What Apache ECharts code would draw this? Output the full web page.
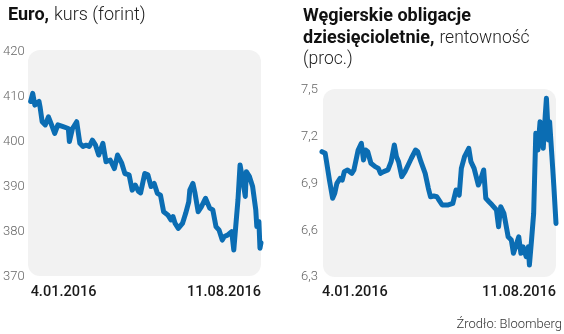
<!DOCTYPE html>
<html>
<head>
<meta charset="utf-8">
<script src="https://cdn.jsdelivr.net/npm/echarts@6/dist/echarts.min.js"></script>
<style>
html,body{margin:0;padding:0;background:#fff;}
#c{width:564px;height:334px;}
</style>
</head>
<body>
<div id="c"></div>
<script>
// ---- data ----
const dateLabels = ['4.01.2016', '11.08.2016'];
const totalDays = 220; // 4.01.2016 -> 11.08.2016

// Euro/HUF exchange rate (calendar-day offset from 4.01.2016, value)
const eurDays = [0,2,4,8,9,11,14,17,20,23,26,31,36,37,40,44,47,50,53,56,59,62,65,69,72,76,80,83,87,90,94,97,100,103,105,109,112,115,118,121,124,127,131,134,136,138,141,145,148,151,152,155,157,160,163,167,171,174,177,180,183,185,188,192,194,196,198,200,202,205,206,209,212,215,216,218,219,220];
const eurValues = [409.0,410.8,408.2,409.0,407.8,404.5,403.8,405.6,403.8,401.9,403.8,403.4,403.0,400.1,403.0,404.5,399.7,399.0,399.3,399.0,400.4,399.3,397.1,399.7,395.6,396.0,394.1,397.1,395.3,393.0,392.7,389.3,390.4,389.0,388.7,393.0,392.7,390.1,390.8,388.6,388.2,384.5,383.8,382.7,383.4,381.9,380.8,381.9,384.1,386.7,389.3,390.8,388.6,384.5,385.6,387.5,385.3,384.9,381.2,380.4,378.2,379.0,379.3,380.1,376.0,381.6,387.1,394.9,392.3,387.9,393.4,392.3,390.1,384.9,381.2,382.3,376.4,377.6];
const eurTicks = [370, 380, 390, 400, 410, 420];

// Hungarian 10-year bond yield (calendar-day offset, %)
const bondDays = [0,3,4,7,10,12,14,17,19,21,24,28,30,32,34,37,39,41,43,46,50,53,55,58,62,65,68,70,72,75,78,81,84,88,90,93,97,100,102,105,108,110,113,118,123,126,129,131,134,138,140,143,147,149,152,154,157,160,164,166,168,171,175,178,180,182,185,187,189,192,194,195,197,199,201,203,205,208,210,211,213,214,217,218,220];
const bondValues = [7.104,7.094,7.051,6.922,6.805,6.837,6.901,6.933,6.922,6.976,6.987,6.965,6.987,7.051,7.115,7.158,7.051,7.115,7.104,7.030,7.008,6.997,6.965,6.976,6.987,7.040,7.147,7.072,7.040,6.944,6.976,7.019,7.062,7.115,7.104,7.040,6.965,6.869,6.815,6.820,6.815,6.794,6.762,6.762,6.773,6.858,6.826,6.997,7.072,7.126,7.040,6.997,6.890,6.922,6.987,6.805,6.783,6.762,6.730,6.623,6.751,6.709,6.558,6.537,6.452,6.494,6.558,6.452,6.494,6.430,6.494,6.377,6.537,6.709,7.222,7.115,7.297,7.126,7.350,7.447,7.179,7.297,6.987,6.879,6.644];
const bondTicks = [6.3, 6.6, 6.9, 7.2, 7.5];

// ---- layout ----
const W = 564, H = 334;
const G1 = {left: 28, top: 52, width: 233, height: 225};
const G2 = {left: 322, top: 90, width: 234, height: 187};
const lineColor = '#0b6db3';
const bgColor = '#f2f2f2';

const pair = (xs, ys) => xs.map((d, i) => [d, ys[i]]);

function xAxisFor(gi) {
  return {
    gridIndex: gi, type: 'value', min: 0, max: totalDays, interval: totalDays,
    axisLine: {show: false}, axisTick: {show: false}, splitLine: {show: false},
    axisLabel: {
      show: true, margin: 8, color: '#1a1a1a', fontFamily: 'Roboto', fontSize: 14.5, fontWeight: 500,
      alignMinLabel: 'left', alignMaxLabel: 'right',
      formatter: v => v === 0 ? dateLabels[0] : (v === totalDays ? dateLabels[1] : '')
    }
  };
}
function yAxisFor(gi, ticks, dec, margin) {
  const step = +(ticks[1] - ticks[0]).toFixed(3);
  return {
    gridIndex: gi, type: 'value', min: ticks[0], max: ticks[ticks.length - 1], interval: step,
    axisLine: {show: false}, axisTick: {show: false}, splitLine: {show: false},
    axisLabel: {
      margin: margin, color: '#666', fontFamily: 'Roboto', fontSize: 13, fontWeight: 300,
      formatter: v => (+v).toFixed(dec).replace('.', ',')
    }
  };
}

const chart = echarts.init(document.getElementById('c'), null, {renderer: 'canvas', width: W, height: H});
chart.setOption({
  animation: false,
  backgroundColor: '#fff',
  title: [
    {
      left: 3, top: 1,
      text: '{b|Euro,} {n|kurs (forint)}',
      textStyle: {
        rich: {
          b: {fontFamily: 'Roboto', fontWeight: 'bold', fontSize: 18, color: '#111'},
          n: {fontFamily: 'Roboto', fontWeight: 300, fontSize: 18, color: '#222'}
        }
      }
    },
    {
      left: 298, top: 1,
      text: '{b|Węgierskie obligacje}\n{b|dziesięcioletnie,} {n|rentowność}\n{n|(proc.)}',
      textStyle: {
        lineHeight: 21.5,
        rich: {
          b: {fontFamily: 'Roboto', fontWeight: 'bold', fontSize: 18, color: '#111', lineHeight: 21.5},
          n: {fontFamily: 'Roboto', fontWeight: 300, fontSize: 17.5, color: '#222', lineHeight: 21.5}
        }
      }
    }
  ],
  graphic: [
    {type: 'rect', z: 0, silent: true,
     shape: {x: G1.left, y: G1.top - 2, width: G1.width, height: G1.height + 1, r: 12},
     style: {fill: bgColor}},
    {type: 'rect', z: 0, silent: true,
     shape: {x: G2.left + 1, y: G2.top - 1, width: G2.width - 1, height: G2.height + 1, r: 12},
     style: {fill: bgColor}},
    {type: 'text', z: 5, right: 2, top: 318,
     style: {text: 'Źrodło: Bloomberg', fill: '#333', font: '300 13px Roboto'}}
  ],
  grid: [
    {left: G1.left, top: G1.top, width: G1.width, height: G1.height, containLabel: false},
    {left: G2.left, top: G2.top, width: G2.width, height: G2.height, containLabel: false}
  ],
  xAxis: [xAxisFor(0), xAxisFor(1)],
  yAxis: [yAxisFor(0, eurTicks, 0, 6), yAxisFor(1, bondTicks, 1, 4)],
  series: [
    {type: 'line', xAxisIndex: 0, yAxisIndex: 0, data: pair(eurDays, eurValues), showSymbol: false, z: 3,
     lineStyle: {color: lineColor, width: 5, join: 'round', cap: 'round'}},
    {type: 'line', xAxisIndex: 1, yAxisIndex: 1, data: pair(bondDays, bondValues), showSymbol: false, z: 3,
     lineStyle: {color: lineColor, width: 5, join: 'round', cap: 'round'}}
  ]
});
</script>
</body>
</html>
